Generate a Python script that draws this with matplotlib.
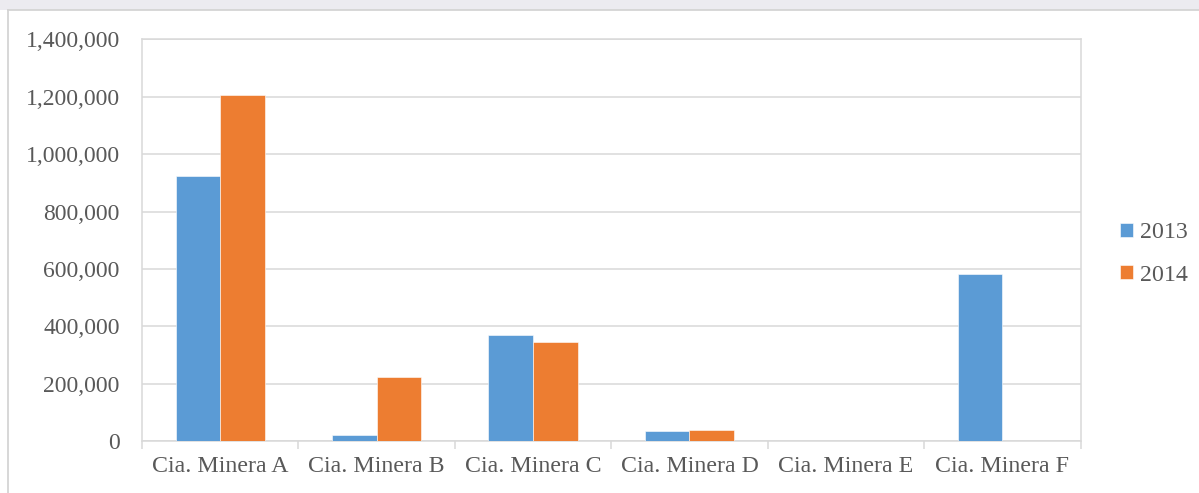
import matplotlib
matplotlib.use("Agg")
import matplotlib.pyplot as plt
from matplotlib.ticker import FuncFormatter, FixedLocator, NullFormatter
from matplotlib.patches import Rectangle
from matplotlib.lines import Line2D
import numpy as np

categories = ["Cia. Minera A", "Cia. Minera B", "Cia. Minera C",
              "Cia. Minera D", "Cia. Minera E", "Cia. Minera F"]
series_names = ["2013", "2014"]
values_2013 = [925000, 20000, 370000, 34000, 0, 584000]
values_2014 = [1206000, 223000, 346000, 37000, 0, 0]
y_ticks = [0, 200000, 400000, 600000, 800000, 1000000, 1200000, 1400000]

plt.rcParams["font.family"] = ["Liberation Serif", "DejaVu Serif"]
TEXT = "#595959"
GRID = "#D9D9D9"
BLUE = "#5B9BD5"
ORANGE = "#ED7D31"

W, H = 1199, 493
fig = plt.figure(figsize=(W / 100, H / 100), dpi=100)
fig.patch.set_facecolor("white")

# top watermark band and chart border
fig.patches.append(Rectangle((0, 1 - 9.5 / H), 1, 9.5 / H, transform=fig.transFigure,
                             facecolor="#ECEBF0", edgecolor="none", zorder=0))
fig.lines.append(Line2D([8 / W, 1], [1 - 9.5 / H, 1 - 9.5 / H], transform=fig.transFigure,
                        color="#D4D4D4", lw=1.3))
fig.lines.append(Line2D([8 / W, 8 / W], [0, 1 - 9.5 / H], transform=fig.transFigure,
                        color="#D4D4D4", lw=1.3))

left, right = 142 / W, 1080.5 / W
bottom, top = (H - 441) / H, (H - 39.5) / H
ax = fig.add_axes([left, bottom, right - left, top - bottom])

x = np.arange(len(categories))
bw = 0.285
ax.bar(x - bw / 2, values_2013, bw, color=BLUE, label=series_names[0],
       edgecolor="white", linewidth=0.4, zorder=3)
ax.bar(x + bw / 2, values_2014, bw, color=ORANGE, label=series_names[1],
       edgecolor="white", linewidth=0.4, zorder=3)

ax.set_xlim(-0.5, len(categories) - 0.5)
ax.set_ylim(0, 1400000)
ax.set_yticks(y_ticks)
ax.yaxis.set_major_formatter(FuncFormatter(lambda v, p: f"{int(v):,}"))
ax.yaxis.grid(True, color=GRID, lw=1.1, zorder=0)
ax.set_axisbelow(True)
ax.tick_params(axis="y", length=0, pad=16, labelsize=17, labelcolor=TEXT)

ax.xaxis.set_major_locator(FixedLocator(np.arange(len(categories) + 1) - 0.5))
ax.xaxis.set_major_formatter(NullFormatter())
ax.xaxis.set_minor_locator(FixedLocator(x))
ax.set_xticklabels(categories, minor=True)
ax.tick_params(axis="x", which="major", length=6, width=1.1, color=GRID)
ax.tick_params(axis="x", which="minor", length=0, pad=10.5, labelsize=17.2, labelcolor=TEXT)

for s in ax.spines.values():
    s.set_color(GRID)
    s.set_linewidth(1.1)

leg = ax.legend(loc="center left", bbox_to_anchor=(1120 / W, (H - 254) / H),
                bbox_transform=fig.transFigure, frameon=False, fontsize=17.2,
                handlelength=0.55, handleheight=0.55, handletextpad=0.3,
                labelspacing=0.88, borderpad=0, borderaxespad=0)
for t in leg.get_texts():
    t.set_color(TEXT)

fig.savefig("out.png", dpi=100)
